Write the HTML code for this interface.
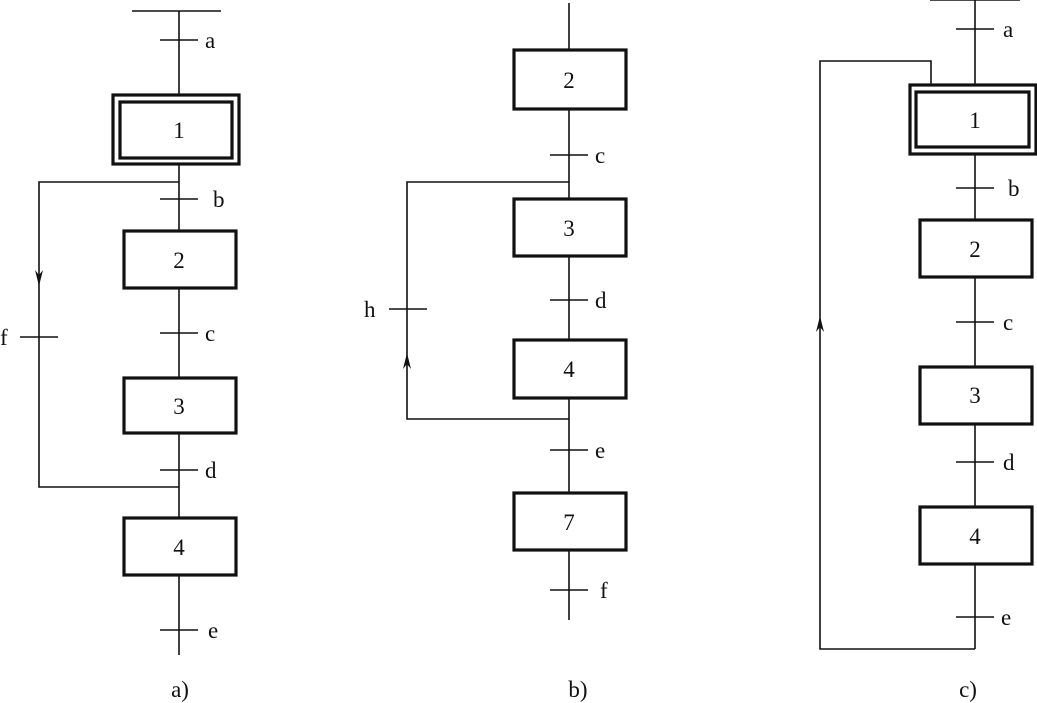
<!DOCTYPE html>
<html><head><style>body{margin:0;background:#fff}svg{display:block}text{font-family:"Liberation Serif",serif;font-size:23px;fill:#111}</style></head><body>
<svg width="1037" height="703" viewBox="0 0 1037 703" xmlns="http://www.w3.org/2000/svg">
<defs><marker id="ar" markerWidth="8" markerHeight="14" refX="4" refY="7" orient="auto-start-reverse" markerUnits="userSpaceOnUse"><path d="M0,0 L4,14 L8,0 L4,4 Z" fill="#111"/></marker></defs>
<g stroke="#111" stroke-width="1.6" fill="none">
<!-- a -->
<line x1="132" y1="11" x2="221" y2="11"/>
<line x1="179" y1="11" x2="179" y2="655"/>
<line x1="160" y1="40" x2="198" y2="40"/>
<line x1="160" y1="199" x2="198" y2="199"/>
<line x1="160" y1="333" x2="198" y2="333"/>
<line x1="160" y1="470" x2="198" y2="470"/>
<line x1="160" y1="630" x2="198" y2="630"/>
<polyline points="179,182 39,182 39,487 179,487"/>
<line x1="20" y1="337" x2="58" y2="337"/>
<path d="M35,270 L39,286 L43,270 L39,275 Z" fill="#111" stroke="none"/>
<!-- b -->
<line x1="569" y1="3" x2="569" y2="620"/>
<line x1="550" y1="155" x2="588" y2="155"/>
<line x1="550" y1="300" x2="588" y2="300"/>
<line x1="550" y1="450" x2="588" y2="450"/>
<line x1="550" y1="590" x2="588" y2="590"/>
<polyline points="569,182 407,182 407,419 569,419"/>
<line x1="389" y1="309" x2="427" y2="309"/>
<path d="M403,369 L407,353 L411,369 L407,364 Z" fill="#111" stroke="none"/>
<!-- c -->
<line x1="930" y1="0" x2="1020" y2="0"/>
<line x1="975" y1="0" x2="975" y2="649"/>
<line x1="956" y1="29" x2="994" y2="29"/>
<line x1="956" y1="188" x2="994" y2="188"/>
<line x1="956" y1="322" x2="994" y2="322"/>
<line x1="956" y1="462" x2="994" y2="462"/>
<line x1="956" y1="617" x2="994" y2="617"/>
<polyline points="931,85 931,61 820,61 820,649 975,649"/>
<path d="M816,332 L820,316 L824,332 L820,327 Z" fill="#111" stroke="none"/>
</g>
<g stroke="#111" stroke-width="3.2" fill="#fff">
<rect x="113" y="95" width="126" height="69"/>
<rect x="120" y="102" width="112" height="56"/>
<rect x="124" y="231" width="112" height="57"/>
<rect x="124" y="378" width="112" height="55"/>
<rect x="124" y="518" width="112" height="57"/>
<rect x="514" y="50" width="112" height="59"/>
<rect x="514" y="199" width="112" height="57"/>
<rect x="514" y="340" width="112" height="58"/>
<rect x="514" y="493" width="112" height="57"/>
<rect x="910" y="85" width="126" height="69"/>
<rect x="916" y="92" width="113" height="55"/>
<rect x="920" y="220" width="112" height="57"/>
<rect x="920" y="367" width="112" height="57"/>
<rect x="920" y="507" width="112" height="57"/>
</g>
<g text-anchor="middle">
<text x="179" y="138">1</text><text x="179" y="268">2</text><text x="179" y="414">3</text><text x="179" y="555">4</text>
<text x="569" y="88">2</text><text x="569" y="236">3</text><text x="569" y="377">4</text><text x="569" y="530">7</text>
<text x="975" y="128">1</text><text x="975" y="257">2</text><text x="975" y="403">3</text><text x="975" y="544">4</text>
<text x="180" y="697">a)</text><text x="578" y="697">b)</text><text x="968" y="697">c)</text>
</g>
<g>
<text x="205" y="48">a</text><text x="213" y="207">b</text><text x="205" y="341">c</text><text x="205" y="478">d</text><text x="208" y="638">e</text><text x="0" y="345">f</text>
<text x="595" y="163">c</text><text x="595" y="308">d</text><text x="595" y="458">e</text><text x="600" y="598">f</text><text x="364" y="317">h</text>
<text x="1003" y="37">a</text><text x="1008" y="196">b</text><text x="1003" y="330">c</text><text x="1003" y="470">d</text><text x="1001" y="625">e</text>
</g>
</svg>
</body></html>
